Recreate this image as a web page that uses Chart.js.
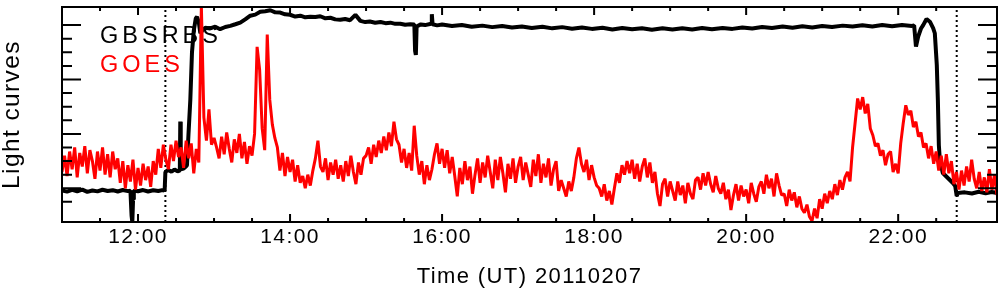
<!DOCTYPE html>
<html>
<head>
<meta charset="utf-8">
<script src="https://cdn.jsdelivr.net/npm/chart.js@4.4.1/dist/chart.umd.min.js"></script>
<style>
  html, body { margin: 0; padding: 0; background: #fff; }
  canvas { display: block; }
</style>
</head>
<body>
<canvas id="lightCurves" width="1004" height="296"></canvas>
<script>
// time axis, decimal hours UT on 2011-02-07
var xTickHours = [12, 14, 16, 18, 20, 22];
var xTickLabels = ["12:00", "14:00", "16:00", "18:00", "20:00", "22:00"];
var markerTimes = [12.36, 22.77]; // dotted lines

var seriesNames = ["GBSRBS", "GOES"];
var seriesColors = ["#000000", "#ff0000"];

// GOES, one sample every 2 minutes from 11:00
var goesStart = 11.0;
var goesStepMinutes = 2;
var goesValues = [
  12, 24, 9, 27, 14, 30, 8, 26, 16, 31, 11, 28, 20, 7, 27, 13, 30, 10, 25, 8, 27, 14, 22,
  4, 20, 0, 17, 5, 21, -1, 15, 2, 18, 6, 16, 1,
  20, 10, 29, 15, 32, 21,
  14, 32, 20, 35, 23, 30, 15, 35, 22, 33, 11, 29, 19,
  134, 52, 35, 58, 32, 37, 30,
  22, 38, 25, 41, 29, 19, 36, 26, 40, 22, 34, 18, 31, 24,
  40, 104, 87, 44, 28, 113, 65, 47, 37,
  30, 13, 26, 9, 23, 12, 21, 5, 17, 4,
  9, 0, 10, 2, 13,
  22, 35, 16,
  12, 22, 6, 19, 10, 21, 7, 17,
  5, 20, 9, 24, 12, 3, 19, 10, 22,
  24, 30, 18, 32,
  23, 35, 26, 38, 28, 41, 31, 49, 36,
  32, 19, 29, 15, 26, 13,
  46, 24,
  10, 20, 3, 17, 6, 14,
  25, 33, 18, 29,
  15, 28, 11, 23, 9,
  -6,
  15, 3, 20, 6, 16, -4,
  10, 22, 4, 19, 8, 24, 12, 0, 21, 6, 23, 11, -3, 18, 7, 22, 4,
  16, 23, 6, 19, 10, 1, 21, 9, 25, 4, 18, 8, 22, 2, 14, 20, -2, 6,
  0, -6, 5, -2, 8, 22, 30, 18,
  12, 21, 6, 17, 8, 2,
  0, -6, 3, -9, -2, -12,
  0, 11, 4, 17, 10, 20,
  11, 21, 7, 18, 5, 16, 22, 8, 19, 4, 12,
  -4, -13, 3,
  7, -6, 5,
  -2, -9, 5, -5, 2, -11, 4, -4, -8, 6,
  8, -1, 11, 2, 12, 3, -3, 9, 0,
  -4, 4, -8, -1, -16, -5, 3, -9, 2, -6, -1, -11, 4, -4, -10, 1,
  5, -4, 10, 0, 7, -6, 11, 2, -5,
  -4, -13, -1, -9, -3, -14, -6, -15,
  -18, -12, -21, -24, -15, -22,
  -8, -15, -4, -11, -2, -8,
  3, -5, 6, -1, 8,
  12, 5,
  30, 48, 66, 58, 67, 55, 62, 44, 39, 31, 33, 24, 28, 17, 25, 27, 12, 18, 11,
  33, 48, 61, 54, 57, 45, 49, 38, 41, 30, 33, 22, 31, 18, 27, 13, 24, 10, 25, 11,
  20, 3, 12, -1, 13, 2, 16, 5, 21, 7, 0, 12, -2, 8, -3, 14, -1, 10, -5
];

// GBSRBS, irregular samples
var gbsTimes = [
  11.000, 11.067, 11.133, 11.200, 11.267, 11.333, 11.400, 11.467, 11.533, 11.600,
  11.667, 11.733, 11.800, 11.867, 11.900, 11.915, 11.925, 11.935, 11.945, 12.000,
  12.067, 12.133, 12.200, 12.267, 12.333, 12.350, 12.360, 12.400, 12.440, 12.480,
  12.520, 12.550, 12.556, 12.562, 12.600, 12.630, 12.644, 12.665, 12.688, 12.710,
  12.734, 12.760, 12.776, 12.800, 12.820, 12.845, 12.885, 12.950, 13.016, 13.080,
  13.148, 13.214, 13.280, 13.345, 13.410, 13.477, 13.542, 13.608, 13.674, 13.740,
  13.805, 13.871, 13.935, 14.000, 14.068, 14.135, 14.200, 14.267, 14.333, 14.398,
  14.465, 14.530, 14.595, 14.660, 14.725, 14.790, 14.860, 14.925, 14.990, 15.050,
  15.120, 15.190, 15.255, 15.320, 15.385, 15.450, 15.515, 15.580, 15.635, 15.645,
  15.655, 15.665, 15.720, 15.777, 15.855, 15.865, 15.875, 15.935,
  16.00, 16.13, 16.26, 16.39, 16.53, 16.66, 16.79, 16.92, 17.05, 17.18,
  17.32, 17.45, 17.58, 17.71, 17.84, 17.97, 18.11, 18.24, 18.37, 18.50,
  18.63, 18.76, 18.90, 19.03, 19.16, 19.29, 19.42, 19.55, 19.69, 19.82,
  19.95, 20.08, 20.21, 20.34, 20.48, 20.61, 20.74, 20.87, 21.00, 21.13,
  21.27, 21.40, 21.53, 21.66, 21.79, 21.92, 22.05, 22.18, 22.21,
  22.234, 22.263, 22.300, 22.329, 22.373, 22.417, 22.460, 22.482, 22.508, 22.522,
  22.535, 22.548, 22.587, 22.640, 22.680, 22.720, 22.750, 22.770, 22.785, 22.877,
  22.970, 23.060, 23.150, 23.230, 23.300
];
var gbsValues = [
  -1.5, -2.5, -1.2, -2.2, -1.0, -2.6, -1.6, -2.3, -1.1, -2.0,
  -1.4, -2.4, -1.3, -2.1, -1.8, -20, -25, -8, -1.6, -2.2,
  -1.3, -2.4, -1.5, -2.0, -1.2, -2.0, 12.0, 13.5, 12.2, 13.8,
  12.5, 13.0, 49, 14.0, 14.5, 16.0, 17, 41, 65, 100,
  116, 125, 126, 122, 114, 116, 118, 117.5, 118.8, 117,
  118.6, 119.4, 120.6, 121.8, 124.2, 126.9, 127.7, 129.8, 130.2, 130.9,
  129.4, 129.2, 127.9, 127.6, 126.3, 126.9, 125.7, 126.2, 125.9, 126.5,
  125.0, 125.4, 124.2, 123.9, 124.5, 123.6, 127.5, 123.1, 122.2, 122.6,
  121.7, 122.3, 121.4, 121.8, 120.9, 121.0, 120.2, 120.6, 120.4, 101,
  98, 119, 120.5, 120.0, 121, 128, 120.6, 119.8,
  120.4, 119.3, 120.1, 118.8, 119.6, 118.5, 119.4, 118.2, 119.0, 117.9,
  118.8, 117.6, 118.5, 117.3, 118.3, 117.2, 118.0, 116.8, 117.9, 116.9,
  117.7, 116.6, 117.6, 116.8, 117.7, 116.7, 117.8, 116.9, 117.9, 117.2,
  118.3, 117.5, 118.6, 117.8, 118.9, 118.0, 119.1, 118.3, 119.4, 118.6,
  119.6, 118.9, 119.8, 119.0, 120.0, 119.2, 120.1, 119.4, 119.8,
  104.2, 111.5, 117.5, 120, 124.5, 122.5, 117.8, 114, 90.7, 65,
  31.8, 20.8, 11.2, 8.3, 6.1, 3.9, 1.7, -5.7, -3.5, -3.0,
  -3.8, -2.6, -3.6, -2.8, -3.4
];

var xMin = 11.0, xMax = 23.3;
var yMin = -24.8, yMax = 133.3;

var goesPoints = goesValues.map(function (v, i) {
  return { x: goesStart + (i * goesStepMinutes) / 60, y: v };
});
var gbsPoints = gbsTimes.map(function (t, i) {
  return { x: t, y: gbsValues[i] };
});

var fontFamily = '"Liberation Sans", Arial, Helvetica, sans-serif';
Chart.defaults.font.family = fontFamily;
Chart.defaults.color = "#000";

// IDL style frame: ticks pointing inwards on all four sides
var frameTicks = {
  id: "frameTicks",
  beforeDraw: function (chart) {
    chart.ctx.letterSpacing = "1.4px";
  },
  afterDraw: function (chart) {
    var ctx = chart.ctx;
    var a = chart.chartArea;
    var xs = chart.scales.x;
    var ys = chart.scales.y;
    ctx.save();
    ctx.strokeStyle = "#000";
    ctx.lineWidth = 2;
    ctx.setLineDash([]);
    ctx.beginPath();
    xs.ticks.forEach(function (t) {
      var v = t.value;
      if (Math.abs(v * 2 - Math.round(v * 2)) > 1e-6) return;
      var px = xs.getPixelForValue(v);
      var len = Math.abs(v % 2) < 1e-6 ? 8 : 4;
      ctx.moveTo(px, a.bottom);
      ctx.lineTo(px, a.bottom - len);
      ctx.moveTo(px, a.top);
      ctx.lineTo(px, a.top + len);
    });
    ys.ticks.forEach(function (t) {
      var v = t.value;
      if (Math.abs(v / 10 - Math.round(v / 10)) > 1e-6) return;
      var py = ys.getPixelForValue(v);
      var len = Math.abs(v % 40) < 1e-6 ? 19 : 10;
      ctx.moveTo(a.left, py);
      ctx.lineTo(a.left + len, py);
      ctx.moveTo(a.right, py);
      ctx.lineTo(a.right - len, py);
    });
    ctx.stroke();
    ctx.strokeRect(a.left, a.top, a.right - a.left, a.bottom - a.top);

    // legend as coloured words
    ctx.letterSpacing = "4px";
    ctx.font = "23.5px " + fontFamily;
    ctx.textBaseline = "alphabetic";
    ctx.textAlign = "left";
    for (var i = 0; i < seriesNames.length; i++) {
      ctx.fillStyle = seriesColors[i];
      ctx.fillText(seriesNames[i], a.left + 38, a.top + 36 + i * 28.5);
    }
    ctx.restore();
  },
};

var markerSets = markerTimes.map(function (t) {
  return {
    label: "",
    data: [{ x: t, y: yMin }, { x: t, y: yMax }],
    borderColor: "#000",
    borderWidth: 2,
    borderDash: [2, 3],
    pointRadius: 0,
    order: 3,
  };
});

var ctx = document.getElementById("lightCurves").getContext("2d");
var chart = new Chart(ctx, {
  type: "line",
  data: {
    datasets: [
      {
        label: seriesNames[0],
        data: gbsPoints,
        borderColor: seriesColors[0],
        borderWidth: 4,
        borderJoinStyle: "bevel",
        pointRadius: 0,
        tension: 0,
        clip: 0,
        order: 2,
      },
      {
        label: seriesNames[1],
        data: goesPoints,
        borderColor: seriesColors[1],
        borderWidth: 3,
        borderJoinStyle: "bevel",
        pointRadius: 0,
        tension: 0,
        clip: 0,
        order: 1,
      },
    ].concat(markerSets),
  },
  options: {
    responsive: false,
    animation: false,
    devicePixelRatio: 1,
    layout: { padding: { top: 7, right: 7, left: 0, bottom: 0 } },
    plugins: { legend: { display: false }, tooltip: { enabled: false } },
    scales: {
      x: {
        type: "linear",
        min: xMin,
        max: xMax,
        grid: { display: false, drawTicks: false },
        border: { display: false },
        ticks: {
          stepSize: 0.5,
          maxTicksLimit: 100,
          autoSkip: false,
          maxRotation: 0,
          padding: 3,
          font: { size: 21, lineHeight: 1.2 },
          color: "#000",
          callback: function (value) {
            var k = xTickHours.indexOf(value);
            return k >= 0 ? xTickLabels[k] : "";
          },
        },
        title: {
          display: true,
          text: "Time (UT) 20110207",
          color: "#000",
          font: { size: 22, lineHeight: 1.2 },
          padding: { top: 0, bottom: 6 },
        },
        afterFit: function (scale) {
          scale.height = 74;
        },
      },
      y: {
        type: "linear",
        min: yMin,
        max: yMax,
        grid: { display: false, drawTicks: false },
        border: { display: false },
        ticks: { display: false, stepSize: 10, maxTicksLimit: 100 },
        title: {
          display: true,
          text: "Light curves",
          color: "#000",
          font: { size: 24.5, lineHeight: 1 },
          padding: 0,
        },
        afterFit: function (scale) {
          scale.width = 62;
        },
      },
    },
  },
  plugins: [frameTicks],
});
</script>
</body>
</html>
